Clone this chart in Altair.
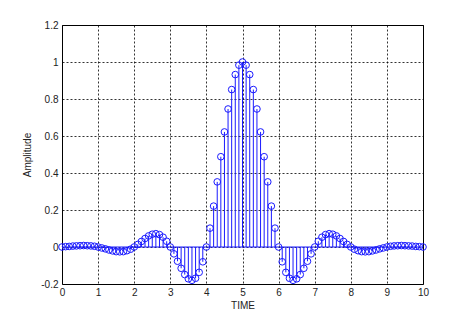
import altair as alt
import pandas as pd

# sample times (0 to 10 in steps of 0.1)
time = [i / 10 for i in range(101)]

# amplitude, t = 0.0 ... 5.0
half = [0.000, 0.002, 0.003, 0.005, 0.006, 0.007, 0.008, 0.007, 0.006, 0.004,
        0.000, -0.005, -0.010, -0.016, -0.021, -0.025, -0.026, -0.025, -0.020, -0.012,
        0.000, 0.014, 0.030, 0.046, 0.060, 0.069, 0.072, 0.067, 0.053, 0.031,
        0.000, -0.037, -0.077, -0.115, -0.149, -0.172, -0.180, -0.169, -0.137, -0.080,
        0.000, 0.102, 0.221, 0.352, 0.488, 0.622, 0.746, 0.851, 0.932, 0.983,
        1.000]
amplitude = half + half[-2::-1]

x_ticks = [0, 1, 2, 3, 4, 5, 6, 7, 8, 9, 10]
y_ticks = [-0.2, 0, 0.2, 0.4, 0.6, 0.8, 1, 1.2]

df = pd.DataFrame({"t": time, "a": amplitude})
base_df = pd.DataFrame({"t0": [0], "t1": [10], "z": [0]})

BLUE = "#1a1aff"
FONT = "Liberation Sans"

xs = alt.Scale(domain=[0, 10], nice=False, zero=False)
ys = alt.Scale(domain=[-0.2, 1.2], nice=False, zero=False)

x_axis = alt.Axis(values=x_ticks, tickCount=len(x_ticks) + 5, title="TIME",
                  grid=True, ticks=False,
                  labelExpr="'' + datum.value", labelPadding=3, titlePadding=3,
                  labelOverlap=False, labelFlush=False, labelBound=False)
y_axis = alt.Axis(values=y_ticks, tickCount=len(y_ticks) + 5, title="Amplitude",
                  grid=True, ticks=False,
                  labelExpr="'' + datum.value", labelPadding=4, titlePadding=8,
                  labelOverlap=False, labelFlush=False, labelBound=False)

stems = alt.Chart(df).mark_rule(color=BLUE, strokeWidth=1).encode(
    x=alt.X("t:Q", scale=xs, axis=x_axis),
    y=alt.Y("a:Q", scale=ys, axis=y_axis),
    y2=alt.Y2(datum=0),
)

baseline = alt.Chart(base_df).mark_rule(color=BLUE, strokeWidth=1).encode(
    x=alt.X("t0:Q", scale=xs),
    x2="t1:Q",
    y=alt.Y("z:Q", scale=ys),
)

points = alt.Chart(df).mark_point(shape="circle", filled=False, color=BLUE,
                                  size=44, strokeWidth=1, opacity=1).encode(
    x=alt.X("t:Q", scale=xs),
    y=alt.Y("a:Q", scale=ys),
)

chart = alt.layer(stems, baseline, points).properties(
    width=361, height=259,
    autosize=alt.AutoSizeParams(type="none"),
    padding={"left": 54, "top": 17, "right": 36, "bottom": 28},
    background="white",
).configure_view(
    stroke="black", strokeWidth=1,
).configure_axis(
    labelFont=FONT, titleFont=FONT, labelFontSize=10, titleFontSize=10,
    titleFontWeight="normal", labelColor="#222", titleColor="#222",
    gridColor="#000", gridDash=[2, 2], gridOpacity=0.8, gridWidth=1,
    domain=False,
)

chart.save("out.html", embed_options={"renderer": "svg", "actions": False})
